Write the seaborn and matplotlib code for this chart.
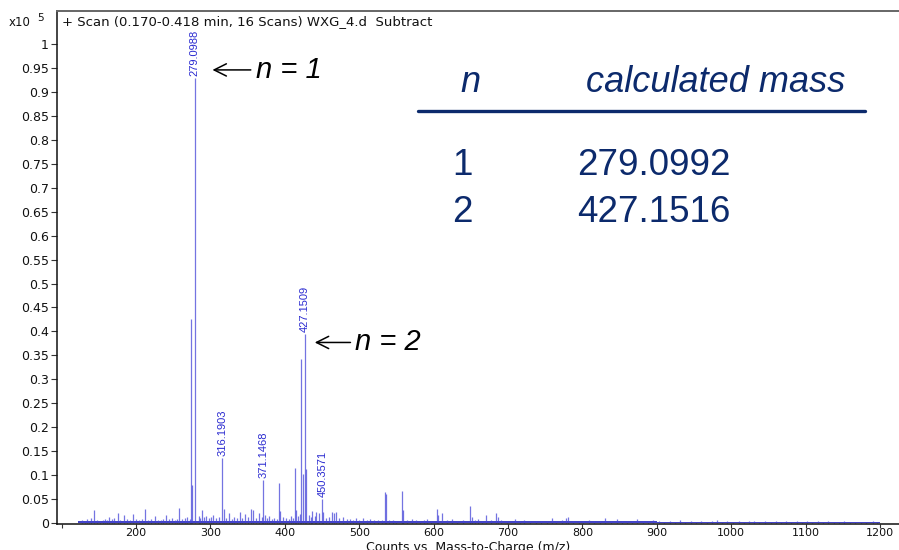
import matplotlib
matplotlib.use("Agg")
import matplotlib.pyplot as plt
import seaborn as sns
import pandas as pd

# ---- spectrum data (m/z, abundance in units of 1e5 counts) ----
labeled_mz = [279.0988, 316.1903, 371.1468, 427.1509, 450.3571]
labeled_int = [0.930, 0.136, 0.090, 0.395, 0.051]

major_mz = [274.0, 274.9, 392.6, 413.7, 421.9, 424.2, 428.7, 534.7, 536.0, 558.0, 604.0, 649.0]
major_int = [0.426, 0.080, 0.083, 0.115, 0.343, 0.103, 0.113, 0.064, 0.060, 0.066, 0.029, 0.036]

minor_peaks = [
    (128, 0.006), (131, 0.004), (134, 0.008), (137, 0.005), (140, 0.010), (143.5, 0.028),
    (147, 0.006), (151, 0.005), (155, 0.007), (158, 0.009), (161, 0.006), (164, 0.012),
    (168, 0.008), (171, 0.010), (175.4, 0.021), (179, 0.007), (184.4, 0.017), (188, 0.009),
    (192, 0.006), (196.5, 0.019), (200, 0.008), (204, 0.006), (208, 0.009), (212, 0.030),
    (216, 0.007), (220, 0.008), (225.5, 0.015), (229, 0.007), (233, 0.006), (236, 0.009),
    (239.8, 0.016), (244, 0.008), (248, 0.010), (252, 0.007), (255, 0.009), (258.2, 0.032),
    (262, 0.008), (266, 0.010), (269, 0.012), (272, 0.009), (284, 0.015), (286, 0.011),
    (289.2, 0.028), (292, 0.012), (294, 0.014), (298, 0.010), (301, 0.013), (304, 0.016),
    (308, 0.011), (311, 0.012), (318, 0.030), (321, 0.010), (325, 0.021), (329, 0.009),
    (332, 0.012), (336, 0.010), (339.6, 0.023), (343, 0.011), (346, 0.019), (350, 0.012),
    (354, 0.029), (357.6, 0.028), (361, 0.010), (365.6, 0.021), (369, 0.012), (373, 0.017),
    (376, 0.010), (379, 0.014), (383, 0.009), (386, 0.011), (389, 0.008), (394, 0.025),
    (398, 0.012), (401, 0.010), (405, 0.009), (408, 0.014), (411, 0.010), (415, 0.028),
    (418, 0.015), (420, 0.019), (432, 0.017), (435, 0.012), (437, 0.026), (440, 0.014),
    (442, 0.024), (446.5, 0.021), (452, 0.023), (456, 0.010), (460, 0.012), (464, 0.024),
    (466, 0.020), (469, 0.023), (473, 0.010), (478, 0.013), (483, 0.008), (487, 0.009),
    (491, 0.007), (496, 0.010), (500, 0.007), (505, 0.010), (510, 0.006), (515, 0.008),
    (520, 0.006), (525, 0.007), (530, 0.006), (540, 0.006), (545, 0.007), (550, 0.005),
    (559, 0.028), (564, 0.006), (571, 0.009), (577, 0.006), (582, 0.005), (587, 0.006),
    (591.7, 0.008), (596, 0.005), (606, 0.016), (611, 0.020), (618, 0.006), (625, 0.008),
    (632, 0.005), (640, 0.006), (651, 0.012), (655, 0.006), (660, 0.009), (665, 0.005),
    (670, 0.017), (677, 0.006), (684, 0.020), (686, 0.012), (690, 0.007), (698, 0.005),
    (709, 0.008), (716, 0.005), (722, 0.006), (730, 0.004), (738, 0.005), (745, 0.004),
    (752, 0.005), (758.7, 0.011), (765, 0.005), (772, 0.006), (778, 0.010), (780.6, 0.013),
    (788, 0.005), (795, 0.004), (801, 0.005), (809, 0.007), (816, 0.004), (823, 0.005),
    (831, 0.010), (838, 0.005), (846, 0.009), (853, 0.004), (860, 0.004), (867, 0.005),
    (874, 0.009), (882, 0.004), (888, 0.004), (895, 0.006), (903, 0.004), (910, 0.003),
    (918, 0.004), (924, 0.003), (931, 0.006), (938, 0.003), (946, 0.004), (953, 0.003),
    (960, 0.004), (967, 0.003), (974, 0.004), (981, 0.007), (988, 0.003), (995, 0.004),
    (1003, 0.003), (1010, 0.004), (1017, 0.003), (1024, 0.004), (1031, 0.005), (1038, 0.003),
    (1046, 0.004), (1053, 0.003), (1060, 0.004), (1067, 0.003), (1074, 0.004), (1081, 0.003),
    (1088, 0.004), (1095, 0.003), (1102, 0.004), (1109, 0.003), (1116.7, 0.005), (1123, 0.003),
    (1130, 0.004), (1138, 0.003), (1145, 0.003), (1152, 0.004), (1160, 0.003), (1167, 0.003),
    (1174, 0.003), (1181, 0.003), (1190, 0.004), (1196, 0.003),
]

# noise floor of the summed scans
floor_mz = [122, 600, 900, 1200]
floor_level = [0.0045, 0.0035, 0.0025, 0.0025]

# axis ticks
x_ticks = [100, 200, 300, 400, 500, 600, 700, 800, 900, 1000, 1100, 1200]
x_ticklabels = ["", "200", "300", "400", "500", "600", "700", "800", "900", "1000", "1100", "1200"]
y_ticks = [0, 0.05, 0.1, 0.15, 0.2, 0.25, 0.3, 0.35, 0.4, 0.45, 0.5,
           0.55, 0.6, 0.65, 0.7, 0.75, 0.8, 0.85, 0.9, 0.95, 1]
y_ticklabels = ["0", "0.05", "0.1", "0.15", "0.2", "0.25", "0.3", "0.35", "0.4", "0.45", "0.5",
                "0.55", "0.6", "0.65", "0.7", "0.75", "0.8", "0.85", "0.9", "0.95", "1"]

# table of calculated masses
table_n = ["1", "2"]
table_mass = ["279.0992", "427.1516"]

# ---- assemble peak table ----
peaks = pd.concat([
    pd.DataFrame({"mz": labeled_mz, "intensity": labeled_int}),
    pd.DataFrame({"mz": major_mz, "intensity": major_int}),
    pd.DataFrame(minor_peaks, columns=["mz", "intensity"]),
], ignore_index=True).sort_values("mz")

sns.set_theme(style="white")
plt.rcParams["font.family"] = ["DejaVu Sans"]

fig = plt.figure(figsize=(8.99, 5.50), dpi=100)
ax = fig.add_axes([57 / 899, 1 - 524 / 550, (905 - 57) / 899, (524 - 11) / 550])

peak_color = "#4545d8"
ax.fill_between(floor_mz, 0, floor_level, step="post", color="#3030c0", lw=0, alpha=0.9)
ax.vlines(peaks["mz"], 0, peaks["intensity"], color=peak_color, lw=0.9, alpha=0.75)

# peak m/z labels
for mz, val in zip(labeled_mz, labeled_int):
    ax.text(mz, val + 0.003, f"{mz:.4f}", rotation=90, ha="center", va="bottom",
            color="#2a2ad0", fontsize=8, family=["Liberation Sans", "DejaVu Sans"])

ax.set_xlim(93.8, 1233.6)
ax.set_ylim(-0.002, 1.069)
ax.set_xticks(x_ticks)
ax.set_xticklabels(x_ticklabels)
ax.set_yticks(y_ticks)
ax.set_yticklabels(y_ticklabels)
ax.tick_params(axis="both", which="major", direction="out", length=4, width=0.8,
               color="#333333", labelsize=9, labelcolor="#111111", pad=2,
               left=True, bottom=True)
ax.tick_params(axis="x", labelsize=8, pad=0, length=3)
ax.grid(False)

for side in ["left", "bottom"]:
    ax.spines[side].set_color("#111111")
    ax.spines[side].set_linewidth(1.1)
ax.spines["top"].set_color("#666666")
ax.spines["top"].set_linewidth(1.4)
ax.spines["right"].set_visible(False)

ax.set_xlabel("Counts vs. Mass-to-Charge (m/z)", fontsize=9, color="#111111")
ax.xaxis.set_label_coords((468 - 57) / (905 - 57), -(541.5 - 524) / 513)
ax.xaxis.label.set_va("top")

ax.text(0.006, 0.992, "+ Scan (0.170-0.418 min, 16 Scans) WXG_4.d  Subtract",
        transform=ax.transAxes, ha="left", va="top", fontsize=9.5, color="#111111")
fig.text(9 / 899, 1 - 23 / 550, "x10", fontsize=8.5, ha="left", va="center", color="#111111")
fig.text(37 / 899, 1 - 18 / 550, "5", fontsize=7.5, ha="left", va="center", color="#111111")

# arrows marking the n = 1 and n = 2 products
ann_font = ["Liberation Sans", "DejaVu Sans"]
ax.annotate("", xy=(299.0, 0.946), xytext=(358.0, 0.946),
            arrowprops=dict(arrowstyle="->", lw=1.1, color="black", mutation_scale=22))
ax.text(361.0, 0.946, "n = 1", fontsize=21, style="italic", family=ann_font,
        ha="left", va="center", color="black")
ax.annotate("", xy=(436.5, 0.377), xytext=(492.0, 0.377),
            arrowprops=dict(arrowstyle="->", lw=1.1, color="black", mutation_scale=22))
ax.text(495.0, 0.377, "n = 2", fontsize=21, style="italic", family=ann_font,
        ha="left", va="center", color="black")

# calculated mass table
navy = "#0c2a6c"
fig.text(470 / 899, 1 - 83 / 550, "n", fontsize=26, style="italic", family=ann_font,
         ha="center", va="center", color=navy)
fig.text(716 / 899, 1 - 83 / 550, "calculated mass", fontsize=26, style="italic",
         family=ann_font, ha="center", va="center", color=navy)
fig.add_artist(plt.Line2D([418 / 899, 865 / 899], [1 - 111 / 550, 1 - 111 / 550],
                          transform=fig.transFigure, color=navy, lw=2.4))
for i, (n, mass) in enumerate(zip(table_n, table_mass)):
    y = 1 - (166 + 46 * i) / 550
    fig.text(462 / 899, y, n, fontsize=26.5, family=ann_font, ha="center", va="center", color=navy)
    fig.text(577 / 899, y, mass, fontsize=26.5, family=ann_font, ha="left", va="center", color=navy)

fig.savefig("out.png", dpi=100)
